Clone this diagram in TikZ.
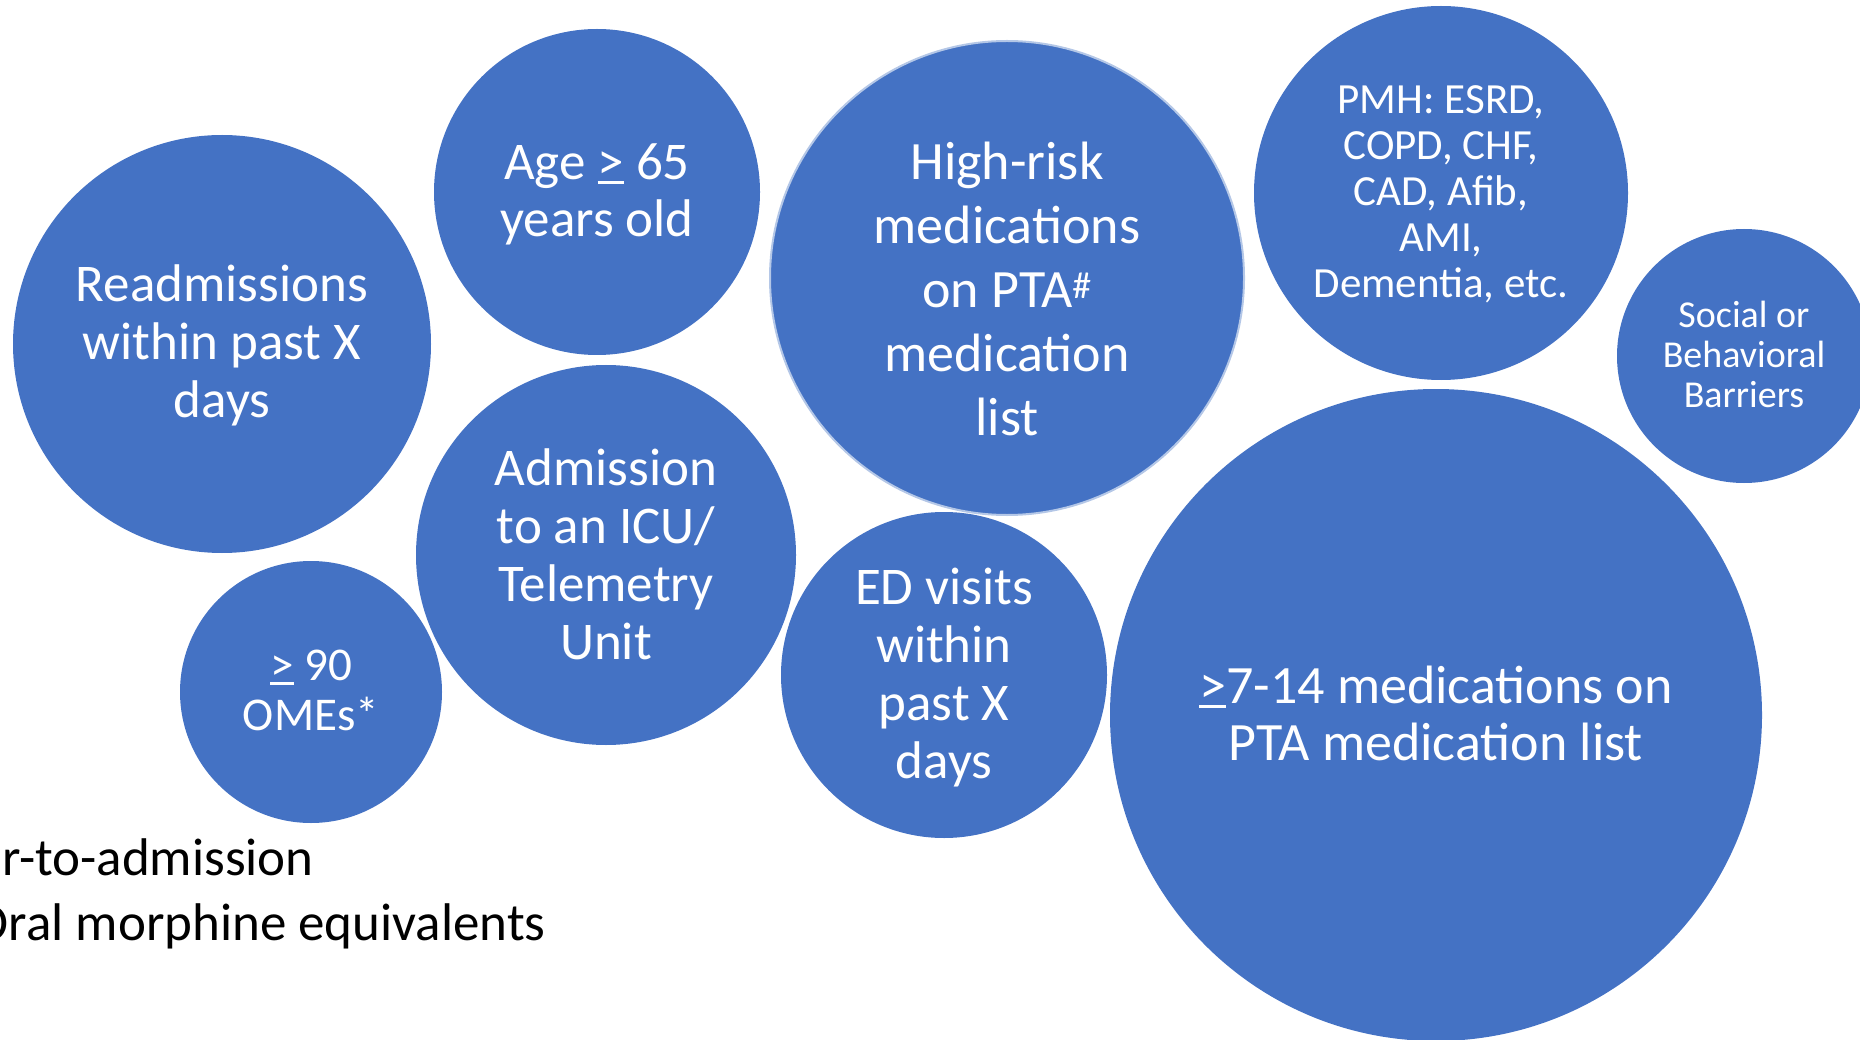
\documentclass[tikz,border=0pt]{standalone}
\usepackage{fontspec}
\setmainfont{Carlito}
\definecolor{bub}{HTML}{4472C4}
\definecolor{bubedge}{HTML}{B4C7E7}
\newcommand{\geU}{\setbox0\hbox{>}\rlap{\rule[-0.1em]{\wd0}{0.065em}}\box0}
\begin{document}
\begin{tikzpicture}[x=1pt,y=-1pt,
  bubble/.style={circle, fill=bub, inner sep=0pt, minimum size=#1},
  btext/.style={text=white, align=center, inner sep=0pt},
  note/.style={text=black, inner sep=0pt, font=\fontsize{53}{65}\selectfont}]
\useasboundingbox (0,0) rectangle (1860,1040);
\clip (0,0) rectangle (1860,1040);
% bubbles
\node[bubble=418pt] (readm) at (222,344) {};
\node[bubble=326pt] (age) at (597,192) {};
\node[bubble=474pt, draw=bubedge, line width=2pt] (hrisk) at (1007,278) {};
\node[bubble=374pt] (pmh) at (1441,193) {};
\node[bubble=254pt] (social) at (1744,356) {};
\node[bubble=262pt] (ome) at (311,692) {};
\node[bubble=380pt] (icu) at (606,555) {};
\node[bubble=326pt] (ed) at (944,675) {};
\node[bubble=652pt] (meds) at (1436,715) {};
% texts
\node[btext, font=\fontsize{53}{58}\selectfont] (readmT) at (222,345) {Readmissions\\within past X\\days};
\node[btext, font=\fontsize{53}{57}\selectfont] (ageT) at (597,194) {Age \geU{} 65\\years old};
\node[btext, font=\fontsize{54}{64}\selectfont] (hriskT) at (1007,289) {High-risk\\medications\\on PTA\textsuperscript{\#}\\medication\\list};
\node[btext, font=\fontsize{43}{46}\selectfont] (pmhT) at (1441,194) {PMH: ESRD,\\COPD, CHF,\\CAD, Afib,\\AMI,\\Dementia, etc.};
\node[btext, font=\fontsize{38}{40}\selectfont] (socialT) at (1744,354) {Social or\\Behavioral\\Barriers};
\node[btext, font=\fontsize{47}{50}\selectfont] (omeT) at (311,690) {\geU{} 90\\OMEs*};
\node[btext, font=\fontsize{53}{58}\selectfont] (icuT) at (606,554) {Admission\\to an ICU/\\Telemetry\\Unit};
\node[btext, font=\fontsize{53}{58}\selectfont] (edT) at (944,678) {ED visits\\within\\past X\\days};
\node[btext, font=\fontsize{54}{57}\selectfont] (medsT) at (1436,713) {\geU{}7-14 medications on\\PTA medication list};
% footnotes (cut at the left edge)
\node[note, anchor=base east] (fn1) at (314,875) {r-to-admission};
\node[note, anchor=base east] (fn2) at (546,940) {Oral morphine equivalents};
\end{tikzpicture}
\end{document}
